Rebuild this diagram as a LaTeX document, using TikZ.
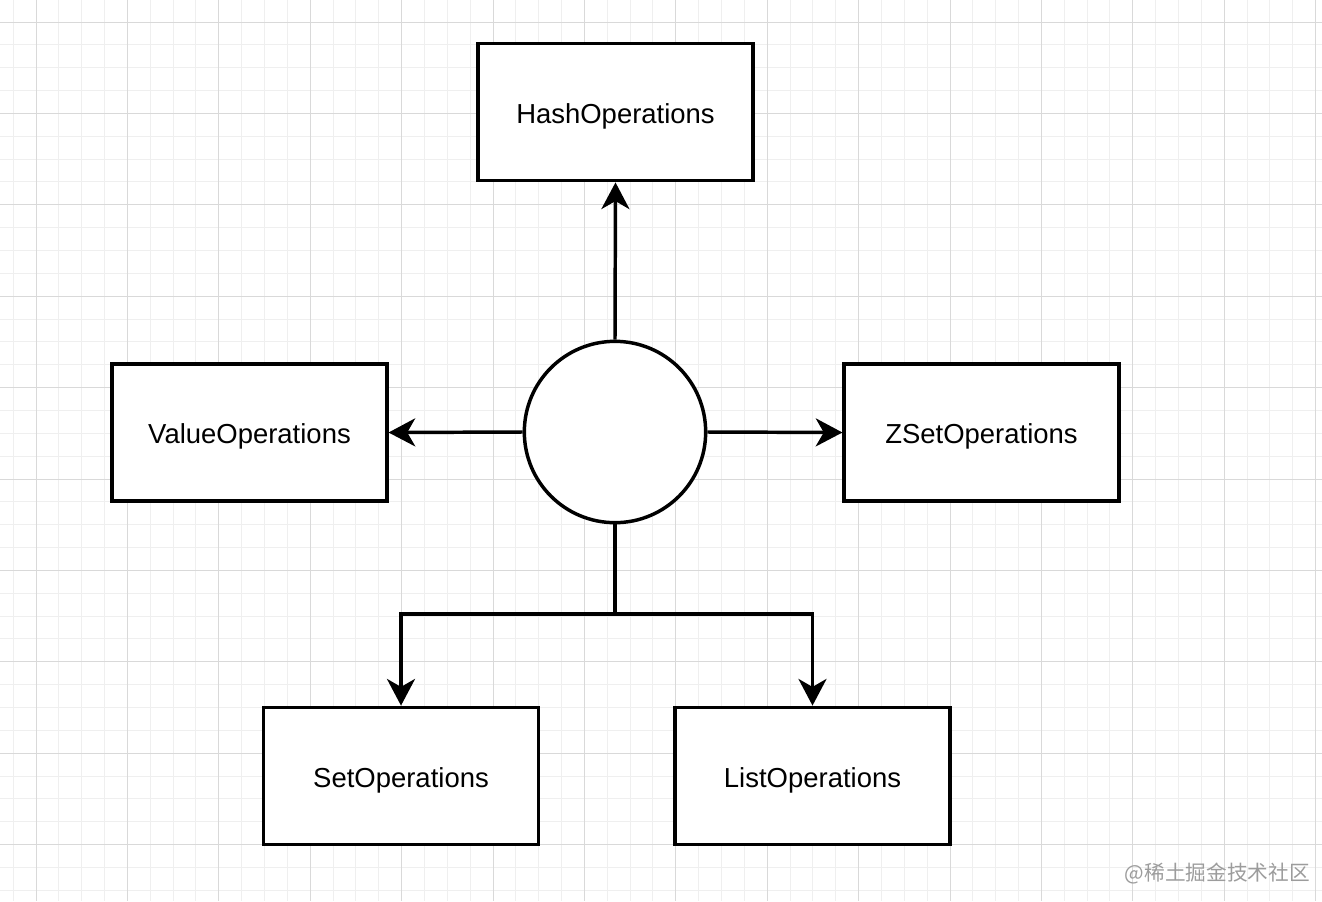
\documentclass[tikz,border=0pt]{standalone}
\usepackage{fontspec}
\setmainfont{Liberation Sans}
\newfontfamily\cjk{Noto Sans CJK SC}
\usetikzlibrary{arrows.meta}
\definecolor{gridminor}{HTML}{EFEFEF}
\definecolor{gridmajor}{HTML}{D9D9D9}
\definecolor{wmark}{HTML}{9C9C9C}
\tikzset{
  opbox/.style={draw=black, fill=white, line width=2.6pt, minimum width=206pt, minimum height=103pt, inner sep=0pt, text height=17pt, text depth=0pt, font=\fontsize{20.6}{24}\selectfont},
  hub/.style={circle, draw=black, fill=white, line width=2.6pt, minimum size=136pt, inner sep=0pt},
  conn/.style={line width=2.6pt, -{Stealth[length=20pt, width=21pt, inset=6pt]}},
  wm/.style={text=wmark, font=\cjk\fontsize{15.5}{18}\selectfont, inner sep=0pt, anchor=east}
}
\begin{document}
\begin{tikzpicture}[x=0.75pt, y=-0.75pt]
\useasboundingbox (0,0) rectangle (1322,901);
\fill[white] (0,0) rectangle (1322,901);
% grid
\foreach \k in {-2,...,58} {
  \pgfmathsetmacro{\xx}{36+22.85*\k}
  \pgfmathsetmacro{\yy}{22+22.85*\k}
  \draw[gridminor, line width=0.75pt] (\xx,0) -- (\xx,901);
  \draw[gridminor, line width=0.75pt] (0,\yy) -- (1322,\yy);
}
\foreach \k in {-1,...,15} {
  \pgfmathsetmacro{\xx}{36+91.4*\k}
  \pgfmathsetmacro{\yy}{22+91.4*\k}
  \draw[gridmajor, line width=0.75pt] (\xx,0) -- (\xx,901);
  \draw[gridmajor, line width=0.75pt] (0,\yy) -- (1322,\yy);
}
% nodes
\node[hub] (c) at (615,432) {};
\node[opbox] (hash) at (615.5,112) {HashOperations};
\node[opbox] (value) at (249.5,432.5) {ValueOperations};
\node[opbox] (zset) at (981.5,432.5) {ZSetOperations};
\node[opbox] (set) at (401,776) {SetOperations};
\node[opbox] (list) at (812.5,776) {ListOperations};
\coordinate (j) at (615,614);
% connectors
\draw[conn] (c.north) -- (hash.south);
\draw[conn] (c.west) -- (value.east);
\draw[conn] (c.east) -- (zset.west);
\draw[line width=2.6pt] (c.south) -- (j);
\draw[conn] (j) -| (set.north);
\draw[conn] (j) -| (list.north);
% watermark
\node[wm] (mark) at (1310,874) {@稀土掘金技术社区};
\end{tikzpicture}
\end{document}
